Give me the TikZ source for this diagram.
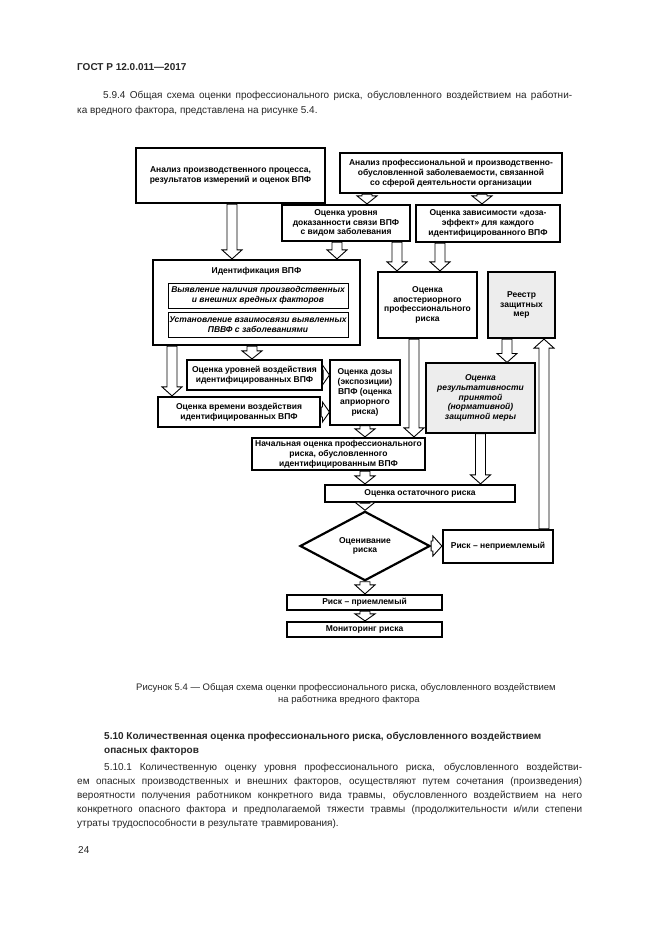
\documentclass[tikz,border=0pt]{standalone}
\usepackage{fontspec}
\setmainfont{Liberation Sans}
\usetikzlibrary{positioning,calc,shapes.geometric}

\newcommand{\boxfont}{\fontsize{8.5}{9.8}\selectfont\bfseries}
\newcommand{\bodyfont}{\fontsize{10}{12}\selectfont}
\newcommand{\capfont}{\fontsize{9.5}{11}\selectfont}
\newcommand{\shaftw}{5pt}
\newcommand{\headw}{10pt}
% hollow block arrow from #2 to #3, #1 = head length
\newcommand{\blockarrow}[3][9pt]{%
  \path (#2) coordinate (ba-s) (#3) coordinate (ba-e);
  \path ($(ba-e)!#1!(ba-s)$) coordinate (ba-h);
  \draw[hollow] ($(ba-s)!\shaftw!90:(ba-e)$) -- ($(ba-h)!\shaftw!90:(ba-e)$)
    -- ($(ba-h)!\headw!90:(ba-e)$) -- (ba-e) -- ($(ba-h)!\headw!-90:(ba-e)$)
    -- ($(ba-h)!\shaftw!-90:(ba-e)$) -- ($(ba-s)!\shaftw!-90:(ba-e)$) -- cycle;
}

\begin{document}
\begin{tikzpicture}[x=1pt, y=-1pt,
box/.style={draw, line width=2.2pt, fill=white, align=center, inner sep=0.5pt, font=\boxfont},
thinbox/.style={box, line width=1.1pt},
subbox/.style={box, line width=0.7pt, font=\boxfont\itshape},
shaded/.style={fill=black!7},
sz/.style 2 args={minimum width=#1pt, minimum height=#2pt},
hollow/.style={draw, fill=white, line width=0.9pt, line join=miter},
body/.style={anchor=base west, inner sep=0pt, font=\bodyfont, text=black!85}]

\fill[white] (0,0) rectangle (661,935);
\useasboundingbox (0,0) rectangle (661,935);

% page text
\node[body, font=\bodyfont\bfseries] (hdr) at (77,70) {ГОСТ Р 12.0.011—2017};
\node[body] (p1a) at (103,98) {\makebox[469pt][s]{5.9.4 Общая схема оценки профессионального риска, обусловленного воздействием на работни-}};
\node[body] (p1b) at (77,113) {ка вредного фактора, представлена на рисунке 5.4.};

% top row
\node[box, sz={189}{55}] (anal) at (230.5,175.5) {Анализ производственного процесса,\\результатов измерений и оценок ВПФ};
\node[box, sz={222}{40}] (morb) at (451,173) {Анализ профессиональной и производственно-\\обусловленной заболеваемости, связанной\\со сферой деятельности организации};
\node[box, sz={128}{36}] (link) at (346,223) {Оценка уровня\\доказанности связи ВПФ\\с видом заболевания};
\node[box, sz={144}{37}] (dose) at (488,223.5) {Оценка зависимости «доза-\\эффект» для каждого\\идентифицированного ВПФ};

% identification
\node[box, sz={207}{85}] (ident) at (256.5,302.5) {};
\node[font=\boxfont, inner sep=0pt] (identT) at (256.5,271) {Идентификация ВПФ};
\node[subbox, sz={180}{25}] (detect) at (258,295.5) {Выявление наличия производственных\\и внешних вредных факторов};
\node[subbox, sz={180}{25}] (relate) at (258,324.5) {Установление взаимосвязи выявленных\\ПВВФ с заболеваниями};

\node[box, sz={99}{66}] (post) at (427.5,305) {Оценка\\апостериорного\\профессионального\\риска};
\node[box, shaded, sz={67}{66}] (reg) at (521.5,305) {Реестр\\защитных\\мер};
\node[thinbox, shaded, font=\boxfont\itshape, sz={109}{70}] (eff) at (480.5,398) {Оценка\\результативности\\принятой\\(нормативной)\\защитной меры};

\node[box, sz={135}{30}] (level) at (254.5,375) {Оценка уровней воздействия\\идентифицированных ВПФ};
\node[box, sz={162}{30}] (time) at (239,412) {Оценка времени воздействия\\идентифицированных ВПФ};
\node[thinbox, sz={70}{65}] (expo) at (365,392.5) {Оценка дозы\\(экспозиции)\\ВПФ (оценка\\априорного\\риска)};

\node[box, sz={173}{32}] (init) at (338.5,454) {Начальная оценка профессионального\\риска, обусловленного\\идентифицированным ВПФ};
\node[box, sz={190}{17}] (resid) at (420,493.5) {Оценка остаточного риска};
\node[box, diamond, sz={130}{58}, inner sep=0pt] (judge) at (365,546) {Оценивание\\риска};
\node[box, sz={110}{33}] (nok) at (498,546.5) {Риск – неприемлемый};
\node[box, sz={155}{15}] (ok) at (364.5,602.5) {Риск – приемлемый};
\node[box, sz={155}{15}] (mon) at (364.5,629.5) {Мониторинг риска};

% arrow columns
\coordinate (cA) at (232,0);
\coordinate (cB) at (367,0);
\coordinate (cC) at (482,0);
\coordinate (cD) at (337,0);
\coordinate (cE) at (397,0);
\coordinate (cF) at (440,0);
\coordinate (cG) at (252,0);
\coordinate (cH) at (172,0);
\coordinate (cJ) at (414,0);
\coordinate (cK) at (507,0);
\coordinate (cM) at (544,0);

\blockarrow{anal.south -| cA}{ident.north -| cA}
\blockarrow[8pt]{morb.south -| cB}{link.north -| cB}
\blockarrow[8pt]{morb.south -| cC}{dose.north -| cC}
\blockarrow{link.south -| cD}{ident.north -| cD}
\blockarrow{link.south -| cE}{post.north -| cE}
\blockarrow{dose.south -| cF}{post.north -| cF}
\blockarrow[8pt]{ident.south -| cG}{level.north -| cG}
\blockarrow{ident.south -| cH}{time.north -| cH}
\blockarrow[7pt]{level.east}{expo.west |- level.east}
\blockarrow[7pt]{time.east}{expo.west |- time.east}
\blockarrow[8pt]{expo.south}{init.north -| expo.south}
\blockarrow{post.south -| cJ}{init.north -| cJ}
\blockarrow{reg.south -| cK}{eff.north -| cK}
\blockarrow{eff.south}{resid.north -| eff.south}
\blockarrow[8pt]{init.south -| expo.south}{resid.north -| expo.south}
\blockarrow[8pt]{resid.south -| judge.north}{judge.north}
\blockarrow[9pt]{judge.east}{nok.west |- judge.east}
\blockarrow{nok.north -| cM}{reg.south -| cM}
\blockarrow{judge.south}{ok.north -| judge.south}
\blockarrow[7pt]{ok.south -| judge.south}{mon.north -| judge.south}

% caption and following text
\node[body, anchor=base, font=\capfont] (cap1) at (346,690) {Рисунок 5.4 — Общая схема оценки профессионального риска, обусловленного воздействием};
\node[body, anchor=base, font=\capfont] (cap2) at (349,702) {на работника вредного фактора};
\node[body, font=\bodyfont\bfseries] (h1) at (104,739) {5.10 Количественная оценка профессионального риска, обусловленного воздействием};
\node[body, font=\bodyfont\bfseries] (h2) at (104,753) {опасных факторов};
\node[body] (q1) at (104,770) {\makebox[478pt][s]{5.10.1 Количественную оценку уровня профессионального риска, обусловленного воздействи-}};
\node[body] (q2) at (77,784) {\makebox[505pt][s]{ем опасных производственных и внешних факторов, осуществляют путем сочетания (произведения)}};
\node[body] (q3) at (77,798) {\makebox[505pt][s]{вероятности получения работником конкретного вида травмы, обусловленного воздействием на него}};
\node[body] (q4) at (77,812) {\makebox[505pt][s]{конкретного опасного фактора и предполагаемой тяжести травмы (продолжительности и/или степени}};
\node[body] (q5) at (77,826) {утраты трудоспособности в результате травмирования).};
\node[body] (pg) at (78,853) {24};
\end{tikzpicture}
\end{document}
